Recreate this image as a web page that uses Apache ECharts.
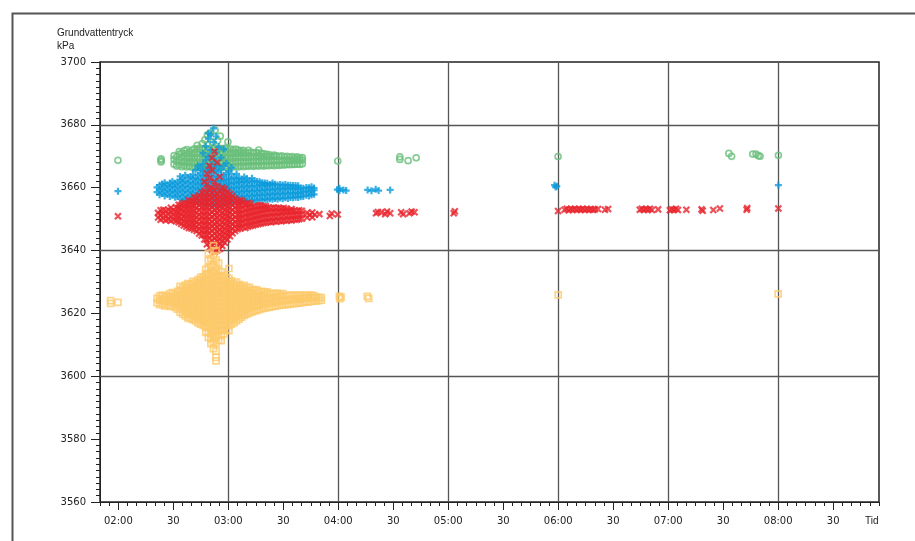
<!DOCTYPE html>
<html lang="sv">
<head>
  <meta charset="utf-8"/>
  <title>Grundvattentryck</title>
  <script src="https://cdn.jsdelivr.net/npm/echarts@6/dist/echarts.min.js"></script>
  <style>
    html, body { margin: 0; padding: 0; background: #fff; }
  </style>
</head>
<body>
<div id="main" style="width: 915px;height: 541px"></div>
<script type="text/javascript">
  // tid i minuter efter midnatt, varje rad: [tid, tryck, tryck, ...] (kPa)
  var greenData = [
    [119.8, 3668.7],
    [143.3, 3668.2, 3669.2, 3668.7],
    [150.4, 3667.5, 3669.0, 3670.2],
    [151.8, 3666.9, 3668.4, 3669.8],
    [153.2, 3667.2, 3668.8, 3670.6, 3671.5],
    [154.6, 3666.7, 3668.1, 3669.6, 3671.0],
    [156.0, 3667.0, 3668.5, 3670.0, 3671.8],
    [157.4, 3666.6, 3668.0, 3669.4, 3670.9, 3672.1],
    [158.8, 3666.9, 3668.3, 3669.8, 3671.4],
    [160.2, 3666.5, 3667.9, 3669.3, 3670.7, 3672.0],
    [161.6, 3666.8, 3668.2, 3669.7, 3671.2, 3672.4],
    [163.0, 3666.4, 3667.9, 3669.4, 3670.8, 3672.2, 3673.5],
    [164.4, 3666.7, 3668.1, 3669.6, 3671.1, 3672.6],
    [165.8, 3666.3, 3667.8, 3669.2, 3670.6, 3672.1, 3674.0],
    [167.2, 3666.6, 3668.0, 3669.5, 3671.0, 3672.5, 3675.2],
    [168.6, 3666.2, 3667.7, 3669.1, 3670.5, 3672.0, 3673.6, 3676.8],
    [170.0, 3666.5, 3668.0, 3669.4, 3670.9, 3672.4, 3677.4],
    [171.4, 3666.3, 3667.8, 3669.3, 3670.8, 3672.3, 3674.5],
    [172.8, 3666.6, 3668.1, 3669.6, 3671.0, 3672.6, 3678.3],
    [174.2, 3666.4, 3667.9, 3669.3, 3670.7, 3672.1, 3675.0],
    [175.6, 3666.7, 3668.2, 3669.7, 3671.2, 3672.5, 3676.4],
    [177.0, 3666.5, 3667.9, 3669.4, 3670.9, 3672.3],
    [178.4, 3666.8, 3668.3, 3669.8, 3671.3, 3672.6],
    [179.8, 3666.5, 3668.0, 3669.5, 3670.9, 3672.2, 3674.6],
    [181.2, 3666.7, 3668.2, 3669.7, 3671.1, 3672.4],
    [182.6, 3666.6, 3668.0, 3669.4, 3670.8, 3672.0],
    [184.0, 3666.8, 3668.3, 3669.8, 3671.2, 3672.3],
    [185.4, 3666.6, 3668.1, 3669.5, 3670.9, 3672.0],
    [186.8, 3666.9, 3668.3, 3669.7, 3671.1, 3671.8],
    [188.2, 3666.7, 3668.1, 3669.6, 3670.9, 3671.9],
    [189.6, 3666.9, 3668.4, 3669.8, 3671.2],
    [191.0, 3666.8, 3668.2, 3669.6, 3671.0, 3671.9],
    [192.4, 3667.0, 3668.4, 3669.9, 3671.3],
    [193.8, 3666.8, 3668.3, 3669.7, 3671.0],
    [195.2, 3667.0, 3668.5, 3669.9, 3671.2],
    [196.6, 3666.9, 3668.3, 3669.8, 3671.0, 3672.0],
    [198.0, 3667.1, 3668.5, 3669.9, 3670.9],
    [199.4, 3666.9, 3668.4, 3669.8, 3670.8],
    [200.8, 3667.1, 3668.6, 3670.0, 3670.6],
    [202.2, 3667.0, 3668.4, 3669.8, 3670.5],
    [203.6, 3667.2, 3668.6, 3670.0],
    [205.0, 3667.0, 3668.5, 3669.9, 3670.4],
    [206.4, 3667.2, 3668.7, 3670.1],
    [207.8, 3667.1, 3668.5, 3669.9],
    [209.2, 3667.3, 3668.7, 3670.1],
    [210.6, 3667.2, 3668.6, 3669.8],
    [212.0, 3667.4, 3668.8, 3670.0],
    [213.4, 3667.3, 3668.6, 3669.7],
    [214.8, 3667.4, 3668.8, 3669.9],
    [216.2, 3667.4, 3668.7, 3669.6],
    [217.6, 3667.5, 3668.9, 3669.8],
    [219.0, 3667.4, 3668.7, 3669.5],
    [220.4, 3667.6, 3668.8, 3669.6],
    [239.7, 3668.5],
    [273.6, 3669.8, 3669.0],
    [278.1, 3668.6],
    [282.5, 3669.5],
    [359.9, 3669.9],
    [453.1, 3670.9], [454.6, 3670.0],
    [466.1, 3670.7], [467.9, 3670.7], [469.2, 3670.2], [470.1, 3670.0],
    [480.1, 3670.3]
  ];

  var blueData = [
    [119.8, 3658.9],
    [141.1, 3658.6, 3660.1],
    [142.5, 3657.8, 3659.3, 3660.8],
    [143.9, 3658.2, 3659.7, 3661.2],
    [145.3, 3657.4, 3658.9, 3660.4, 3661.6],
    [146.7, 3657.9, 3659.4, 3660.9],
    [148.1, 3657.2, 3658.7, 3660.2, 3661.5],
    [149.5, 3657.6, 3659.1, 3660.6, 3662.0],
    [150.9, 3657.0, 3658.5, 3660.0, 3661.4],
    [152.3, 3657.3, 3658.8, 3660.3, 3661.8],
    [153.7, 3656.4, 3657.9, 3659.4, 3660.9, 3662.4, 3663.6],
    [155.1, 3655.8, 3657.2, 3658.7, 3660.2, 3661.7, 3663.0],
    [156.5, 3656.2, 3657.6, 3659.1, 3660.6, 3662.1, 3664.0],
    [157.9, 3655.5, 3657.0, 3658.5, 3660.0, 3661.5, 3663.2],
    [159.3, 3656.0, 3657.4, 3658.9, 3660.4, 3661.9, 3663.5],
    [160.7, 3655.4, 3656.8, 3658.3, 3659.8, 3661.3, 3662.8, 3664.2],
    [162.1, 3655.7, 3657.2, 3658.7, 3660.2, 3661.7, 3663.1, 3665.6],
    [163.5, 3655.0, 3656.5, 3658.0, 3659.5, 3661.0, 3662.5, 3664.0, 3667.0],
    [164.9, 3655.3, 3656.8, 3658.3, 3659.8, 3661.3, 3662.8, 3664.6, 3666.2],
    [166.3, 3654.6, 3656.1, 3657.6, 3659.1, 3660.6, 3662.1, 3663.6, 3665.1, 3667.5, 3671.0],
    [167.7, 3654.9, 3656.4, 3657.9, 3659.4, 3660.9, 3662.4, 3663.9, 3665.6, 3668.9, 3673.2],
    [169.1, 3654.5, 3656.0, 3657.5, 3659.0, 3660.5, 3662.0, 3663.5, 3665.0, 3666.5, 3670.0, 3675.6, 3677.3],
    [170.5, 3654.8, 3656.3, 3657.8, 3659.3, 3660.8, 3662.3, 3663.8, 3665.3, 3667.4, 3672.0, 3677.0],
    [171.9, 3654.4, 3655.9, 3657.4, 3658.9, 3660.4, 3661.9, 3663.4, 3664.9, 3666.6, 3669.3, 3674.5, 3678.9],
    [173.3, 3654.7, 3656.2, 3657.7, 3659.2, 3660.7, 3662.2, 3663.7, 3665.4, 3668.0, 3671.2, 3676.3],
    [174.7, 3654.3, 3655.8, 3657.3, 3658.8, 3660.3, 3661.8, 3663.3, 3665.0, 3666.8, 3673.0],
    [176.1, 3654.6, 3656.1, 3657.6, 3659.1, 3660.6, 3662.1, 3663.6, 3665.8, 3669.6],
    [177.5, 3654.9, 3656.4, 3657.9, 3659.4, 3660.9, 3662.4, 3664.0, 3667.0, 3672.3],
    [178.9, 3655.1, 3656.6, 3658.1, 3659.6, 3661.1, 3662.6, 3664.5, 3667.8],
    [180.3, 3655.4, 3656.9, 3658.4, 3659.9, 3661.4, 3662.9, 3665.2],
    [181.7, 3655.2, 3656.7, 3658.2, 3659.7, 3661.2, 3662.7, 3664.3, 3666.4],
    [183.1, 3655.6, 3657.1, 3658.6, 3660.1, 3661.6, 3663.1],
    [184.5, 3655.4, 3656.9, 3658.4, 3659.9, 3661.4, 3662.9, 3664.4],
    [185.9, 3655.8, 3657.3, 3658.8, 3660.3, 3661.8, 3663.0],
    [187.3, 3655.6, 3657.1, 3658.6, 3660.1, 3661.6, 3662.8],
    [188.7, 3656.0, 3657.5, 3659.0, 3660.5, 3662.0, 3663.4],
    [190.1, 3655.8, 3657.3, 3658.8, 3660.3, 3661.8, 3662.9],
    [191.5, 3656.1, 3657.6, 3659.1, 3660.6, 3662.1],
    [192.9, 3655.9, 3657.4, 3658.9, 3660.4, 3661.9, 3663.0],
    [194.3, 3656.2, 3657.7, 3659.2, 3660.7, 3662.2],
    [195.7, 3656.0, 3657.5, 3659.0, 3660.5, 3662.0],
    [197.1, 3656.3, 3657.8, 3659.3, 3660.8, 3661.9],
    [198.5, 3656.1, 3657.6, 3659.1, 3660.6, 3661.6],
    [199.9, 3656.4, 3657.9, 3659.4, 3660.9, 3661.5],
    [201.3, 3656.2, 3657.7, 3659.2, 3660.7, 3661.4],
    [202.7, 3656.5, 3658.0, 3659.5, 3661.0],
    [204.1, 3656.3, 3657.8, 3659.3, 3660.8, 3661.5],
    [205.5, 3656.6, 3658.1, 3659.6, 3661.1],
    [206.9, 3656.4, 3657.9, 3659.4, 3660.9],
    [208.3, 3656.7, 3658.2, 3659.7, 3661.0],
    [209.7, 3656.5, 3658.0, 3659.5, 3660.9],
    [211.1, 3656.8, 3658.3, 3659.8, 3661.0],
    [212.5, 3656.6, 3658.1, 3659.6, 3660.8],
    [213.9, 3656.9, 3658.4, 3659.9, 3660.8],
    [215.3, 3656.8, 3658.2, 3659.6, 3660.7],
    [216.7, 3657.0, 3658.4, 3659.8, 3660.7],
    [218.1, 3656.9, 3658.3, 3659.7, 3660.6],
    [219.5, 3657.1, 3658.5, 3659.9],
    [220.9, 3657.2, 3658.6, 3659.8],
    [222.6, 3657.6, 3658.9, 3660.1],
    [224.0, 3657.4, 3658.7, 3660.0],
    [225.4, 3657.7, 3659.0, 3660.3],
    [226.8, 3657.9, 3659.2, 3659.9],
    [239.5, 3659.4], [240.6, 3659.0, 3659.8], [242.8, 3659.3], [244.3, 3659.1],
    [256.0, 3659.3], [258.1, 3659.0], [260.4, 3659.5], [262.0, 3659.1], [268.3, 3659.3],
    [358.0, 3660.8], [358.6, 3660.2], [359.2, 3660.5],
    [480.1, 3660.8]
  ];

  var redData = [
    [119.8, 3650.9],
    [141.7, 3650.5, 3652.0],
    [143.1, 3649.8, 3651.3, 3652.8],
    [144.5, 3650.2, 3651.7, 3653.0],
    [145.9, 3649.6, 3651.1, 3652.6],
    [147.3, 3650.0, 3651.5, 3653.0],
    [148.7, 3649.5, 3651.0, 3652.5, 3653.6],
    [150.1, 3649.8, 3651.3, 3652.8],
    [151.5, 3649.3, 3650.8, 3652.3, 3653.8],
    [152.9, 3649.0, 3650.5, 3652.0, 3653.5, 3654.6],
    [154.3, 3648.5, 3650.0, 3651.5, 3653.0, 3654.5],
    [155.7, 3648.0, 3649.5, 3651.0, 3652.5, 3654.0, 3655.2],
    [157.1, 3647.6, 3649.1, 3650.6, 3652.1, 3653.6, 3655.0],
    [158.5, 3647.2, 3648.7, 3650.2, 3651.7, 3653.2, 3654.7, 3656.0],
    [159.9, 3647.0, 3648.5, 3650.0, 3651.5, 3653.0, 3654.5, 3655.8],
    [161.3, 3646.6, 3648.1, 3649.6, 3651.1, 3652.6, 3654.1, 3655.6, 3657.0],
    [162.7, 3646.2, 3647.7, 3649.2, 3650.7, 3652.2, 3653.7, 3655.2, 3656.7],
    [164.1, 3645.4, 3646.9, 3648.4, 3649.9, 3651.4, 3652.9, 3654.4, 3655.9, 3657.5],
    [165.5, 3644.8, 3646.3, 3647.8, 3649.3, 3650.8, 3652.3, 3653.8, 3655.3, 3656.8, 3658.5],
    [166.9, 3643.5, 3645.0, 3646.5, 3648.0, 3649.5, 3651.0, 3652.5, 3654.0, 3655.5, 3657.0, 3659.0, 3662.0],
    [168.3, 3642.0, 3643.5, 3645.0, 3646.5, 3648.0, 3649.5, 3651.0, 3652.5, 3654.0, 3655.5, 3657.0, 3658.5, 3661.0, 3664.5],
    [169.7, 3641.0, 3642.5, 3644.0, 3645.5, 3647.0, 3648.5, 3650.0, 3651.5, 3653.0, 3654.5, 3656.0, 3657.5, 3659.5, 3663.0, 3667.0],
    [171.1, 3640.2, 3641.7, 3643.2, 3644.7, 3646.2, 3647.7, 3649.2, 3650.7, 3652.2, 3653.7, 3655.2, 3656.7, 3658.2, 3660.0, 3665.5, 3669.5],
    [172.5, 3639.5, 3641.0, 3642.5, 3644.0, 3645.5, 3647.0, 3648.5, 3650.0, 3651.5, 3653.0, 3654.5, 3656.0, 3657.5, 3659.2, 3662.0, 3671.5],
    [173.9, 3640.0, 3641.5, 3643.0, 3644.5, 3646.0, 3647.5, 3649.0, 3650.5, 3652.0, 3653.5, 3655.0, 3656.5, 3658.0, 3660.5, 3668.0],
    [175.3, 3640.5, 3642.0, 3643.5, 3645.0, 3646.5, 3648.0, 3649.5, 3651.0, 3652.5, 3654.0, 3655.5, 3657.0, 3658.8, 3663.5],
    [176.7, 3641.5, 3643.0, 3644.5, 3646.0, 3647.5, 3649.0, 3650.5, 3652.0, 3653.5, 3655.0, 3656.5, 3658.0, 3660.0],
    [178.1, 3642.5, 3644.0, 3645.5, 3647.0, 3648.5, 3650.0, 3651.5, 3653.0, 3654.5, 3656.0, 3657.5, 3659.6],
    [179.5, 3643.5, 3645.0, 3646.5, 3648.0, 3649.5, 3651.0, 3652.5, 3654.0, 3655.5, 3657.0, 3658.6],
    [180.9, 3644.6, 3646.1, 3647.6, 3649.1, 3650.6, 3652.1, 3653.6, 3655.1, 3656.6, 3658.0],
    [182.3, 3645.5, 3647.0, 3648.5, 3650.0, 3651.5, 3653.0, 3654.5, 3656.0, 3657.3],
    [183.7, 3646.2, 3647.7, 3649.2, 3650.7, 3652.2, 3653.7, 3655.2, 3656.6],
    [185.1, 3646.8, 3648.3, 3649.8, 3651.3, 3652.8, 3654.3, 3655.8],
    [186.5, 3647.0, 3648.5, 3650.0, 3651.5, 3653.0, 3654.5, 3656.0],
    [187.9, 3647.4, 3648.9, 3650.4, 3651.9, 3653.4, 3654.9, 3655.8],
    [189.3, 3647.2, 3648.7, 3650.2, 3651.7, 3653.2, 3654.7],
    [190.7, 3647.6, 3649.1, 3650.6, 3652.1, 3653.6, 3655.1],
    [192.1, 3647.8, 3649.3, 3650.8, 3652.3, 3653.8, 3654.9],
    [193.5, 3648.0, 3649.5, 3651.0, 3652.5, 3654.0],
    [194.9, 3648.2, 3649.7, 3651.2, 3652.7, 3654.2],
    [196.3, 3648.4, 3649.9, 3651.4, 3652.9, 3654.3],
    [197.7, 3648.6, 3650.1, 3651.6, 3653.1, 3654.4],
    [199.1, 3648.8, 3650.3, 3651.8, 3653.3, 3654.2],
    [200.5, 3648.9, 3650.4, 3651.9, 3653.4, 3654.1],
    [201.9, 3649.1, 3650.6, 3652.1, 3653.6],
    [203.3, 3649.0, 3650.5, 3652.0, 3653.5],
    [204.7, 3649.3, 3650.8, 3652.3, 3653.7],
    [206.1, 3649.2, 3650.7, 3652.2, 3653.5],
    [207.5, 3649.4, 3650.9, 3652.4, 3653.6],
    [208.9, 3649.3, 3650.8, 3652.3, 3653.4],
    [210.3, 3649.6, 3651.1, 3652.6, 3653.5],
    [211.7, 3649.5, 3651.0, 3652.5, 3653.3],
    [213.1, 3649.7, 3651.2, 3652.7],
    [214.5, 3649.6, 3651.1, 3652.6, 3653.2],
    [215.9, 3649.9, 3651.3, 3652.7],
    [217.3, 3649.8, 3651.2, 3652.6],
    [218.7, 3650.0, 3651.4, 3652.8],
    [220.1, 3650.1, 3651.5, 3652.7],
    [223.0, 3650.5, 3652.0], [224.4, 3651.3], [225.8, 3650.6, 3652.1], [227.2, 3651.4],
    [229.7, 3651.6], [235.4, 3651.0], [236.4, 3651.8], [239.7, 3651.5],
    [260.6, 3651.9], [261.6, 3652.3], [263.4, 3652.2], [265.6, 3651.6], [266.6, 3652.4],
    [268.3, 3651.9], [274.3, 3652.2], [275.4, 3651.6], [278.8, 3651.9], [280.0, 3652.4],
    [281.6, 3652.2], [303.0, 3651.9], [303.6, 3652.5],
    [359.9, 3652.6],
    [363.5, 3653.0], [364.6, 3653.3], [365.7, 3652.8], [366.8, 3653.2], [367.9, 3653.0],
    [369.0, 3653.3], [370.1, 3652.9], [371.2, 3653.2], [372.3, 3653.0], [373.4, 3653.3],
    [374.5, 3652.9], [375.6, 3653.2], [376.7, 3653.0], [377.8, 3653.2], [378.9, 3652.9],
    [380.0, 3653.1], [381.7, 3653.2], [385.5, 3653.0], [387.2, 3653.2],
    [404.5, 3653.0], [405.6, 3653.3], [406.7, 3652.9], [407.8, 3653.2], [408.9, 3653.0],
    [410.0, 3653.3], [411.1, 3652.9], [414.5, 3653.1],
    [420.9, 3652.8], [422.0, 3653.1], [423.1, 3653.0], [424.2, 3653.3], [425.3, 3652.9],
    [429.9, 3653.0], [438.2, 3653.1], [438.8, 3652.7], [444.6, 3652.9], [448.2, 3653.4],
    [462.8, 3653.0], [463.1, 3653.5], [480.1, 3653.4]
  ];

  var orangeData = [
    [115.8, 3624.1, 3623.2],
    [119.8, 3623.5],
    [141.1, 3623.4, 3624.8],
    [142.5, 3622.8, 3624.2, 3625.5],
    [143.9, 3623.0, 3624.5, 3625.8],
    [145.3, 3622.4, 3623.8, 3625.2],
    [146.7, 3622.7, 3624.1, 3625.6],
    [148.1, 3622.2, 3623.6, 3625.0, 3626.3],
    [149.5, 3622.5, 3623.9, 3625.3, 3626.6],
    [150.9, 3621.9, 3623.3, 3624.7, 3626.1],
    [152.3, 3621.4, 3622.8, 3624.2, 3625.6, 3627.0],
    [153.7, 3620.4, 3621.8, 3623.2, 3624.6, 3626.0, 3627.4, 3628.6],
    [155.1, 3619.8, 3621.2, 3622.6, 3624.0, 3625.4, 3626.8, 3628.2],
    [156.5, 3619.2, 3620.6, 3622.0, 3623.4, 3624.8, 3626.2, 3627.6, 3629.0],
    [157.9, 3618.6, 3620.0, 3621.4, 3622.8, 3624.2, 3625.6, 3627.0, 3628.4, 3629.5],
    [159.3, 3618.3, 3619.7, 3621.1, 3622.5, 3623.9, 3625.3, 3626.7, 3628.1, 3629.3],
    [160.7, 3618.0, 3619.4, 3620.8, 3622.2, 3623.6, 3625.0, 3626.4, 3627.8, 3629.2, 3630.2],
    [162.1, 3617.6, 3619.0, 3620.4, 3621.8, 3623.2, 3624.6, 3626.0, 3627.4, 3628.8, 3630.0],
    [163.5, 3617.0, 3618.4, 3619.8, 3621.2, 3622.6, 3624.0, 3625.4, 3626.8, 3628.2, 3629.6, 3630.8],
    [164.9, 3616.6, 3618.0, 3619.4, 3620.8, 3622.2, 3623.6, 3625.0, 3626.4, 3627.8, 3629.2, 3630.6, 3631.5],
    [166.3, 3616.2, 3617.6, 3619.0, 3620.4, 3621.8, 3623.2, 3624.6, 3626.0, 3627.4, 3628.8, 3630.2, 3631.6],
    [167.7, 3614.0, 3615.6, 3617.0, 3618.4, 3619.8, 3621.2, 3622.6, 3624.0, 3625.4, 3626.8, 3628.2, 3629.6, 3631.0, 3632.5, 3634.0],
    [169.1, 3612.4, 3614.0, 3615.5, 3617.0, 3618.4, 3619.8, 3621.2, 3622.6, 3624.0, 3625.4, 3626.8, 3628.2, 3629.6, 3631.0, 3632.6, 3634.5, 3636.8, 3639.1],
    [170.5, 3610.4, 3612.0, 3613.5, 3615.0, 3616.5, 3618.0, 3619.4, 3620.8, 3622.2, 3623.6, 3625.0, 3626.4, 3627.8, 3629.2, 3630.6, 3632.0, 3633.5, 3635.0, 3637.5],
    [171.9, 3608.8, 3611.0, 3612.8, 3614.4, 3616.0, 3617.5, 3619.0, 3620.4, 3621.8, 3623.2, 3624.6, 3626.0, 3627.4, 3628.8, 3630.2, 3631.6, 3633.0, 3635.5, 3638.4, 3641.6],
    [173.3, 3604.9, 3606.0, 3608.0, 3610.5, 3612.5, 3614.2, 3615.8, 3617.3, 3618.8, 3620.2, 3621.6, 3623.0, 3624.4, 3625.8, 3627.2, 3628.6, 3630.0, 3631.4, 3632.8, 3634.5, 3637.0, 3640.0],
    [174.7, 3611.5, 3613.2, 3614.8, 3616.4, 3617.9, 3619.4, 3620.8, 3622.2, 3623.6, 3625.0, 3626.4, 3627.8, 3629.2, 3630.6, 3632.0, 3633.6, 3636.0],
    [176.1, 3611.3, 3613.0, 3614.6, 3616.2, 3617.7, 3619.2, 3620.6, 3622.0, 3623.4, 3624.8, 3626.2, 3627.6, 3629.0, 3630.4, 3631.8, 3633.2],
    [177.5, 3613.5, 3615.0, 3616.5, 3618.0, 3619.4, 3620.8, 3622.2, 3623.6, 3625.0, 3626.4, 3627.8, 3629.2, 3630.6, 3632.0],
    [178.9, 3614.8, 3616.2, 3617.6, 3619.0, 3620.4, 3621.8, 3623.2, 3624.6, 3626.0, 3627.4, 3628.8, 3630.2, 3631.5],
    [180.3, 3614.5, 3616.1, 3617.5, 3618.9, 3620.3, 3621.7, 3623.1, 3624.5, 3625.9, 3627.3, 3628.7, 3630.1, 3631.2, 3634.3],
    [181.7, 3616.6, 3618.0, 3619.4, 3620.8, 3622.2, 3623.6, 3625.0, 3626.4, 3627.8, 3629.2, 3630.4],
    [183.1, 3617.0, 3618.4, 3619.8, 3621.2, 3622.6, 3624.0, 3625.4, 3626.8, 3628.2, 3629.6],
    [184.5, 3617.6, 3619.0, 3620.4, 3621.8, 3623.2, 3624.6, 3626.0, 3627.4, 3628.8, 3630.0],
    [185.9, 3618.2, 3619.6, 3621.0, 3622.4, 3623.8, 3625.2, 3626.6, 3628.0, 3629.2],
    [187.3, 3618.8, 3620.2, 3621.6, 3623.0, 3624.4, 3625.8, 3627.2, 3628.6],
    [188.7, 3619.4, 3620.8, 3622.2, 3623.6, 3625.0, 3626.4, 3627.8, 3628.9],
    [190.1, 3619.8, 3621.2, 3622.6, 3624.0, 3625.4, 3626.8, 3628.2],
    [191.5, 3620.2, 3621.6, 3623.0, 3624.4, 3625.8, 3627.2, 3628.3],
    [192.9, 3620.5, 3621.9, 3623.3, 3624.7, 3626.1, 3627.5],
    [194.3, 3620.8, 3622.2, 3623.6, 3625.0, 3626.4, 3627.6],
    [195.7, 3621.0, 3622.4, 3623.8, 3625.2, 3626.6, 3627.4],
    [197.1, 3621.3, 3622.7, 3624.1, 3625.5, 3626.9],
    [198.5, 3621.5, 3622.9, 3624.3, 3625.7, 3627.0],
    [199.9, 3621.7, 3623.1, 3624.5, 3625.9, 3626.9],
    [201.3, 3621.9, 3623.3, 3624.7, 3626.1, 3626.8],
    [202.7, 3622.0, 3623.4, 3624.8, 3626.2],
    [204.1, 3622.2, 3623.6, 3625.0, 3626.4],
    [205.5, 3622.3, 3623.7, 3625.1, 3626.3],
    [206.9, 3622.5, 3623.9, 3625.3, 3626.4],
    [208.3, 3622.6, 3624.0, 3625.4, 3626.2],
    [209.7, 3622.7, 3624.1, 3625.5, 3626.3],
    [211.1, 3622.8, 3624.2, 3625.6],
    [212.5, 3622.9, 3624.3, 3625.7],
    [213.9, 3623.0, 3624.4, 3625.8],
    [215.3, 3623.1, 3624.5, 3625.7],
    [216.7, 3623.2, 3624.6, 3625.8],
    [218.1, 3623.3, 3624.7, 3625.7],
    [219.5, 3623.4, 3624.7, 3625.8],
    [220.9, 3623.5, 3624.8, 3625.7],
    [222.3, 3623.6, 3624.9, 3625.8],
    [223.7, 3623.7, 3624.9, 3625.7],
    [225.1, 3623.8, 3625.0, 3625.8],
    [226.5, 3623.9, 3625.0, 3625.7],
    [227.9, 3624.0, 3625.1],
    [229.3, 3624.1, 3625.1],
    [230.7, 3624.2, 3625.0],
    [240.6, 3625.4], [240.9, 3624.7], [241.5, 3625.2],
    [255.8, 3625.4], [256.6, 3624.8],
    [360.0, 3625.9],
    [480.0, 3626.2]
  ];

  // axelindelning
  var xLabelValues = [120, 150, 180, 210, 240, 270, 300, 330, 360, 390, 420, 450, 480, 510];
  var hourLines = [180, 240, 300, 360, 420, 480];
  var kpaLines = [3600, 3640, 3680];

  var minorTicks = [];
  for (var m = 110; m <= 535; m += 5) minorTicks.push(m);

  function toPoints(rows) {
    var pts = [];
    rows.forEach(function (r) {
      for (var i = 1; i < r.length; i++) pts.push([r[0], r[i]]);
    });
    return pts;
  }

  function fmtTime(v) {
    if (v % 60 !== 0) return '30';
    var h = Math.floor(v / 60);
    return (h < 10 ? '0' : '') + h + ':00';
  }

  var axisColor = '#222';
  var labelFont = { color: '#222', fontFamily: 'DejaVu Sans', fontSize: 10 };

  var myChart = echarts.init(document.getElementById('main'));

  myChart.setOption({
    animation: false,
    backgroundColor: '#fff',
    grid: {
      left: 100, right: 36, top: 62, bottom: 39,
      show: true, borderColor: '#222', borderWidth: 1.5
    },
    graphic: [
      { type: 'rect', left: 10, top: 11, shape: { width: 1000, height: 1000 },
        style: { fill: 'none', stroke: '#555', lineWidth: 2 } },
      { type: 'text', left: 57, top: 27,
        style: { text: 'Grundvattentryck\nkPa', font: '10px "Liberation Sans"', fill: '#222', lineHeight: 13 } },
      { type: 'text', left: 865, top: 516,
        style: { text: 'Tid', font: '10px "Liberation Sans"', fill: '#222' } }
    ],
    xAxis: [
      {
        type: 'value', min: 110, max: 535,
        axisLine: { lineStyle: { color: axisColor, width: 1 } },
        axisTick: { customValues: xLabelValues, length: 8, lineStyle: { color: axisColor } },
        axisLabel: Object.assign({ customValues: xLabelValues, margin: 14, formatter: fmtTime }, labelFont),
        splitLine: { show: false }
      },
      {
        type: 'value', min: 110, max: 535, position: 'bottom',
        axisLine: { show: false },
        axisTick: { customValues: minorTicks, length: 4, lineStyle: { color: axisColor } },
        axisLabel: { show: false },
        splitLine: { show: false }
      }
    ],
    yAxis: [
      {
        type: 'value', min: 3560, max: 3700, interval: 20,
        axisLine: { show: true, lineStyle: { color: axisColor, width: 1 } },
        axisTick: { show: true, length: 9, lineStyle: { color: axisColor } },
        minorTick: { show: true, splitNumber: 10, length: 4, lineStyle: { color: axisColor } },
        axisLabel: Object.assign({ margin: 14, formatter: function (v) { return String(v); } }, labelFont),
        splitLine: { show: false }
      }
    ],
    series: [
      {
        name: 'grid', type: 'scatter', data: [], silent: true, z: 1,
        markLine: {
          silent: true, symbol: ['none', 'none'], label: { show: false }, z: 1,
          lineStyle: { color: '#555', width: 1.3, type: 'solid' },
          emphasis: { disabled: true },
          data: hourLines.map(function (v) { return { xAxis: v }; })
            .concat(kpaLines.map(function (v) { return { yAxis: v }; }))
        }
      },
      {
        name: 'Serie 1', type: 'scatter', data: toPoints(greenData),
        symbol: 'circle', symbolSize: 6, z: 2,
        itemStyle: { color: 'rgba(0,0,0,0)', borderColor: '#6abf7a', borderWidth: 1.7 },
        emphasis: { disabled: true }
      },
      {
        name: 'Serie 2', type: 'scatter', data: toPoints(blueData),
        symbol: 'path://M0,4H8M4,0V8', symbolSize: 7, z: 3,
        itemStyle: { color: 'rgba(0,0,0,0)', borderColor: '#0b9bdc', borderWidth: 2.2 },
        emphasis: { disabled: true }
      },
      {
        name: 'Serie 3', type: 'scatter', data: toPoints(redData),
        symbol: 'path://M0,0L8,8M8,0L0,8', symbolSize: 6, z: 4,
        itemStyle: { color: 'rgba(0,0,0,0)', borderColor: '#e8262e', borderWidth: 2.2 },
        emphasis: { disabled: true }
      },
      {
        name: 'Serie 4', type: 'scatter', data: toPoints(orangeData),
        symbol: 'rect', symbolSize: 6, z: 5,
        itemStyle: { color: 'rgba(0,0,0,0)', borderColor: '#fdc96a', borderWidth: 1.7 },
        emphasis: { disabled: true }
      }
    ]
  });
</script>
</body>
</html>
